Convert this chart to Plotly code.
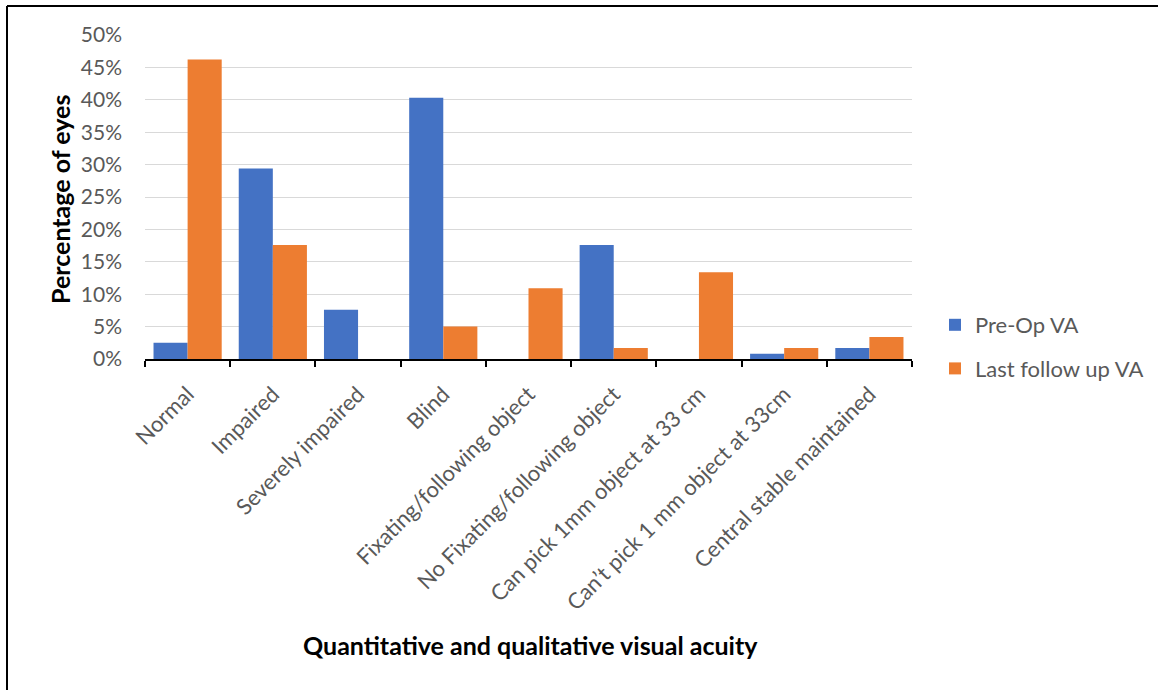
import plotly.graph_objects as go

categories = [
    "Normal",
    "Impaired",
    "Severely impaired",
    "Blind",
    "Fixating/following object",
    "No Fixating/following object",
    "Can pick 1mm object at 33 cm",
    "Can\u2019t pick 1 mm object at 33cm",
    "Central stable maintained",
]
pre_op = [2.5, 29.4, 7.6, 40.3, 0, 17.6, 0, 0.8, 1.7]
last_follow_up = [46.2, 17.6, 0, 5.0, 10.9, 1.7, 13.4, 1.7, 3.4]
series_names = ["Pre-Op VA", "Last follow up VA"]
colors = ["#4472C4", "#ED7D31"]
y_ticks = list(range(0, 55, 5))
y_tick_text = [f"{v}%" for v in y_ticks]

FONT = "Lato, sans-serif"
GREY = "#595959"

fig = go.Figure()
for name, vals, col in zip(series_names, [pre_op, last_follow_up], colors):
    fig.add_trace(go.Bar(
        x=categories, y=vals, name=name, marker_color=col,
        marker_line_width=0, showlegend=False,
    ))
# square legend keys
for i, (name, col) in enumerate(zip(series_names, colors)):
    fig.add_trace(go.Scatter(
        x=[None], y=[None], mode="markers", name=name,
        marker=dict(symbol="square", size=12, color=col),
        legendgroup=f"g{i}",
    ))

pw, ph = 1158 - 145 - 246, 690 - 35 - 331
def px_to_paper(px, py):
    return (px - 145) / pw, (690 - 331 - py) / ph

ax, ay = px_to_paper(60, 200)
bx, by = px_to_paper(530, 645)

fig.update_layout(
    width=1158, height=690,
    margin=dict(l=145, r=246, t=35, b=331, autoexpand=False),
    paper_bgcolor="white", plot_bgcolor="white",
    font=dict(family=FONT, size=22, color=GREY),
    barmode="group", bargap=0.2, bargroupgap=0,
    legend=dict(
        xref="container", yref="container",
        x=935 / 1158, xanchor="left", y=(690 - 304) / 690, yanchor="top",
        font=dict(size=22, color=GREY), tracegroupgap=12,
        itemwidth=30, bgcolor="rgba(0,0,0,0)",
    ),
    annotations=[
        dict(text="<b>Percentage of eyes</b>", x=ax, y=ay, xref="paper", yref="paper",
             xanchor="center", yanchor="middle",
             showarrow=False, textangle=-90, font=dict(size=25, color="black")),
        dict(text="<b>Quantitative and qualitative visual acuity</b>",
             x=bx, y=by, xref="paper", yref="paper", showarrow=False,
             xanchor="center", yanchor="middle",
             font=dict(size=25, color="black")),
    ],
)

fig.update_xaxes(
    type="category", tickangle=-45, tickson="boundaries",
    ticks="outside", ticklen=6, tickcolor="black", tickwidth=1.5,
    showline=True, linecolor="black", linewidth=1.5,
    showgrid=False, tickfont=dict(size=22, color=GREY),
    ticklabelstandoff=12, automargin=False,
)
fig.update_yaxes(
    range=[0, 50], tickmode="array", tickvals=y_ticks, ticktext=y_tick_text,
    showgrid=True, gridcolor="#D9D9D9", gridwidth=1.3,
    zeroline=False, showline=False, ticks="",
    ticklabelstandoff=22, tickfont=dict(size=21, color=GREY),
    automargin=False,
)

# frame lines along the top and left edges
fig.add_shape(type="line", xref="paper", yref="paper",
              x0=px_to_paper(7, 0)[0], x1=px_to_paper(1158, 0)[0],
              y0=px_to_paper(0, 6)[1], y1=px_to_paper(0, 6)[1],
              line=dict(color="black", width=2))
fig.add_shape(type="line", xref="paper", yref="paper",
              x0=px_to_paper(7, 0)[0], x1=px_to_paper(7, 0)[0],
              y0=px_to_paper(0, 6)[1], y1=px_to_paper(0, 690)[1],
              line=dict(color="black", width=2))

fig.write_html("out.html")
